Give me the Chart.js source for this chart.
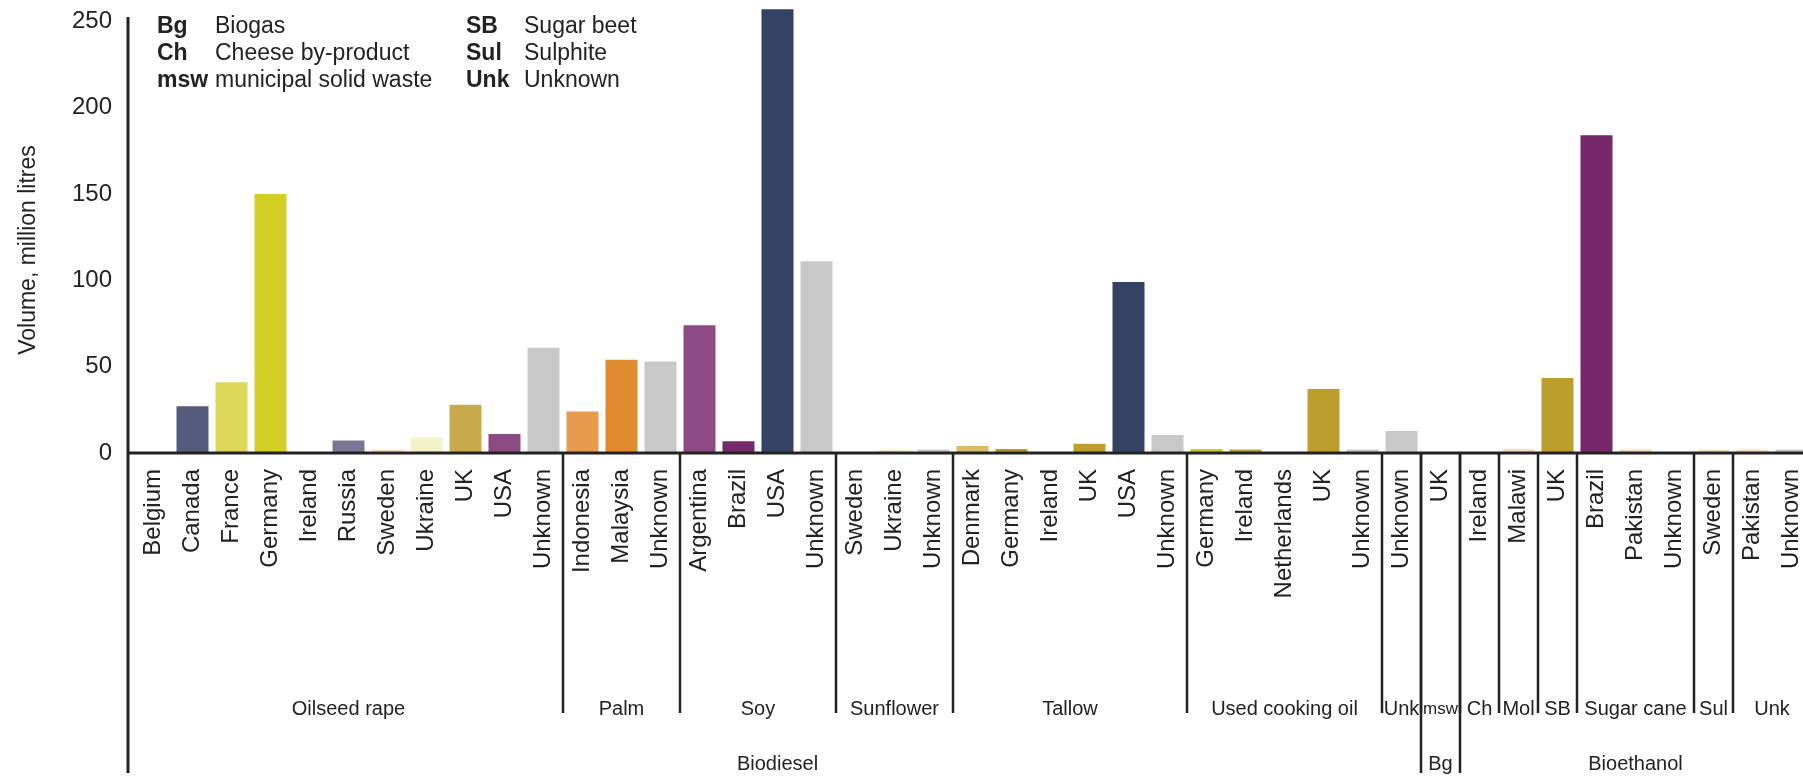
<!DOCTYPE html>
<html lang="en">
<head>
<meta charset="UTF-8">
<title>Biofuel feedstock by origin</title>
<script src="https://cdn.jsdelivr.net/npm/chart.js"></script>
<style>
  html, body { margin: 0; padding: 0; background: #fff; overflow: hidden; }
  #wrap { width: 1812px; height: 779px; position: relative; }
</style>
</head>
<body>
<div id="wrap"><canvas id="bar_chart"></canvas></div>
<script>
// countries of origin, one bar each
var labels = ['Belgium', 'Canada', 'France', 'Germany', 'Ireland', 'Russia', 'Sweden', 'Ukraine', 'UK', 'USA', 'Unknown',
  'Indonesia', 'Malaysia', 'Unknown',
  'Argentina', 'Brazil', 'USA', 'Unknown',
  'Sweden', 'Ukraine', 'Unknown',
  'Denmark', 'Germany', 'Ireland', 'UK', 'USA', 'Unknown',
  'Germany', 'Ireland', 'Netherlands', 'UK', 'Unknown',
  'Unknown',
  'UK',
  'Ireland',
  'Malawi',
  'UK',
  'Brazil', 'Pakistan', 'Unknown',
  'Sweden',
  'Pakistan', 'Unknown'];

// volume, million litres
var volumes = [0, 27, 41, 150, 0, 7.3, 2, 9, 28, 11, 61,
  24, 54, 53,
  74, 6.8, 257, 111,
  0, 1.9, 2,
  4, 2.3, 0, 5.4, 99, 10.4,
  2.3, 2, 0, 37, 2,
  12.8,
  0,
  0,
  2.3,
  43.5,
  184, 2, 0,
  2,
  2, 2];

var barColors = ['#575a7a', '#565a7b', '#ded85a', '#d3cf25', '#cccccc', '#7a7592', '#f3e2bc', '#f4f2c9', '#c9aa4b', '#8b4a82', '#c8c8c8',
  '#e89b4d', '#e08b2f', '#c8c8c8',
  '#8b4a82', '#77296b', '#354264', '#c8c8c8',
  '#f3e2bc', '#f3efc6', '#c8c8c8',
  '#d9bd68', '#b8982a', '#cccccc', '#bc9e2c', '#354264', '#c8c8c8',
  '#cfcc1e', '#bfa040', '#cccccc', '#bc9e2c', '#c8c8c8',
  '#c8c8c8',
  '#cccccc',
  '#cccccc',
  '#fbdcb8',
  '#bc9e2c',
  '#77286a', '#fbdcb8', '#c8c8c8',
  '#f5e4b8',
  '#fbdcb8', '#c8c8c8'];

// feedstock groups (name, number of bars)
var feedNames = ['Oilseed rape', 'Palm', 'Soy', 'Sunflower', 'Tallow', 'Used cooking oil', 'Unk', 'msw', 'Ch', 'Mol', 'SB', 'Sugar cane', 'Sul', 'Unk'];
var feedCounts = [11, 3, 4, 3, 6, 5, 1, 1, 1, 1, 1, 3, 1, 2];

// fuel type groups
var fuelNames = ['Biodiesel', 'Bg', 'Bioethanol'];
var fuelCounts = [33, 1, 9];

var yTicks = [0, 50, 100, 150, 200, 250];

var legendLeft = [['Bg', 'Biogas'], ['Ch', 'Cheese by-product'], ['msw', 'municipal solid waste']];
var legendRight = [['SB', 'Sugar beet'], ['Sul', 'Sulphite'], ['Unk', 'Unknown']];

var FONT = '"Liberation Sans", Arial, Helvetica, sans-serif';
var INK = '#222';
// wanted plot box (the last category runs past the window edge, as in the source)
var TOP = 4, LEFT = 134, RIGHT = 1811;

// group lines, labels, legend and axis lines
var extras = {
  id: 'extras',
  afterDraw: function (chart) {
    var ctx = chart.ctx;
    var x = chart.scales.x;
    var area = chart.chartArea;
    var base = area.bottom;
    var step = x.getPixelForValue(1) - x.getPixelForValue(0);
    var left = x.getPixelForValue(0) - step / 2;
    var axisX = left - 6;

    ctx.save();
    ctx.strokeStyle = INK;

    // axes
    ctx.lineWidth = 3;
    ctx.beginPath();
    ctx.moveTo(axisX, 17);
    ctx.lineTo(axisX, 773);
    ctx.moveTo(axisX, base);
    ctx.lineTo(chart.width, base);
    ctx.stroke();

    // feedstock level
    ctx.lineWidth = 2.5;
    ctx.fillStyle = INK;
    ctx.textAlign = 'center';
    ctx.textBaseline = 'middle';
    var k = 0;
    for (var i = 0; i < feedNames.length; i++) {
      var a = left + k * step;
      k += feedCounts[i];
      var b = left + k * step;
      if (i > 0) {
        ctx.beginPath();
        ctx.moveTo(a, base);
        ctx.lineTo(a, 713);
        ctx.stroke();
      }
      ctx.font = (feedNames[i] === 'msw' ? '17px ' : '20px ') + FONT;
      ctx.fillText(feedNames[i], (a + b) / 2, 709);
    }

    // fuel level
    k = 0;
    for (var j = 0; j < fuelNames.length; j++) {
      var a2 = left + k * step;
      k += fuelCounts[j];
      var b2 = left + k * step;
      if (j > 0) {
        ctx.beginPath();
        ctx.moveTo(a2, base);
        ctx.lineTo(a2, 773);
        ctx.stroke();
      }
      ctx.font = '20px ' + FONT;
      ctx.fillText(fuelNames[j], (a2 + Math.min(b2, chart.width)) / 2, 764);
    }

    // y axis title
    ctx.save();
    ctx.translate(29, 250);
    ctx.rotate(-Math.PI / 2);
    ctx.font = '23px ' + FONT;
    ctx.fillText('Volume, million litres', 0, 0);
    ctx.restore();

    // abbreviation key
    ctx.textAlign = 'left';
    var rows = [27, 54, 81];
    function key(list, x1, x2) {
      for (var r = 0; r < list.length; r++) {
        ctx.font = 'bold 23px ' + FONT;
        ctx.fillText(list[r][0], x1, rows[r]);
        ctx.font = '23px ' + FONT;
        ctx.fillText(list[r][1], x2, rows[r]);
      }
    }
    key(legendLeft, 157, 215);
    key(legendRight, 466, 524);
    ctx.restore();
  }
};

var chart = new Chart(document.getElementById('bar_chart'), {
  type: 'bar',
  data: {
    labels: labels,
    datasets: [{
      label: 'Volume',
      data: volumes,
      backgroundColor: barColors,
      barPercentage: 0.82,
      categoryPercentage: 1
    }]
  },
  options: {
    responsive: true,
    maintainAspectRatio: false,
    animation: false,
    layout: { padding: { top: TOP, right: 1, left: 0, bottom: 0 } },
    plugins: {
      legend: { display: false },
      tooltip: { enabled: false }
    },
    scales: {
      x: {
        grid: { display: false, drawTicks: false },
        border: { display: false },
        ticks: {
          color: INK,
          font: { family: FONT, size: 24 },
          minRotation: 90,
          maxRotation: 90,
          autoSkip: false,
          padding: 16
        },
        afterFit: function (scale) {
          scale.height = 326;
          scale.paddingLeft = 0;
          scale.paddingRight = 0;
        }
      },
      y: {
        min: 0,
        max: 260,
        grid: { display: false, drawTicks: false },
        border: { display: false },
        afterBuildTicks: function (scale) {
          scale.ticks = yTicks.map(function (v) { return { value: v }; });
        },
        ticks: {
          color: INK,
          font: { family: FONT, size: 24 },
          padding: 22,
          includeBounds: false
        },
        afterFit: function (scale) {
          scale.width = 134;
          scale.paddingTop = 0;
        }
      }
    }
  },
  plugins: [extras]
});

// nudge the plot box onto the wanted edges if the layout added extra room
var pad = chart.options.layout.padding;
var offT = chart.chartArea.top - TOP;
var offL = chart.chartArea.left - LEFT;
var offR = chart.chartArea.right - RIGHT;
if (Math.abs(offT) > 0.5 || Math.abs(offL) > 0.5 || Math.abs(offR) > 0.5) {
  pad.top -= offT;
  pad.left -= offL;
  pad.right += offR;
  chart.update();
}
</script>
</body>
</html>
